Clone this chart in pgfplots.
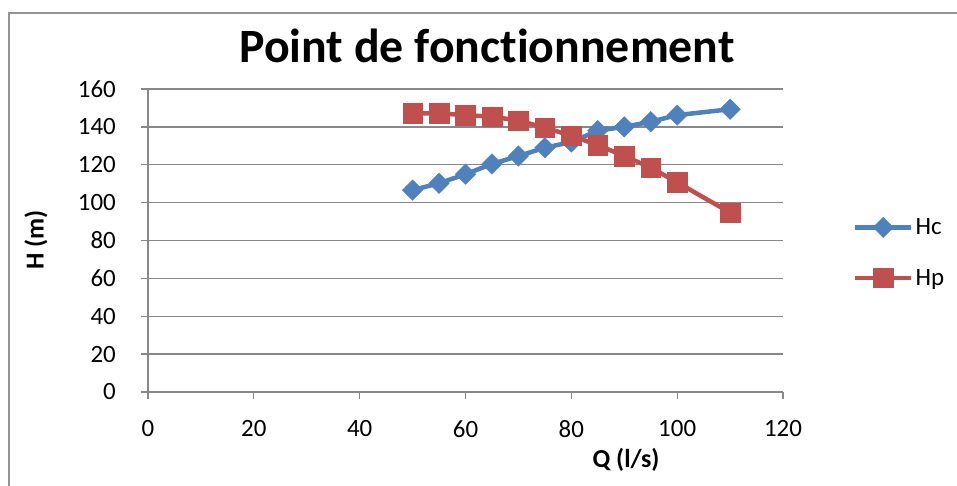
\documentclass[border=0pt]{standalone}
\usepackage{pgfplots}
\pgfplotsset{compat=1.18}
\usepackage{fontspec}
\setmainfont{Carlito}[Ligatures={NoCommon}]
\definecolor{hcblue}{HTML}{4F81BD}
\definecolor{hpred}{HTML}{C0504D}
\definecolor{gridgray}{HTML}{888888}
\begin{document}
\begin{tikzpicture}[x=1bp,y=1bp]
\useasboundingbox (0,0) rectangle (957,486);
\fill[white] (0,0) rectangle (957,486);
\draw[gridgray!90, line width=2bp] (8.5,0) -- (8.5,472.5) -- (960,472.5);
\begin{axis}[
  at={(148bp,94bp)}, anchor=south west,
  scale only axis, width=635bp, height=303bp,
  xmin=0, xmax=120, ymin=0, ymax=160,
  xtick={0,20,...,120}, ytick={0,20,...,160},
  axis x line*=bottom, axis y line*=left,
  axis line style={gridgray, line width=1.3bp},
  tick align=outside, major tick length=7bp,
  tick style={gridgray, line width=1.3bp},
  ymajorgrids, grid style={gridgray, line width=1.3bp},
  /pgf/number format/assume math mode=true,
  ticklabel style={font=\fontsize{25}{29}\selectfont, inner sep=0pt},
  xticklabel style={anchor=center, yshift=-30bp},
  yticklabel style={anchor=east, xshift=-25bp},
  clip=false,
  legend style={at={(axis description cs:1.11,0.46)}, anchor=west, draw=none, fill=none, inner sep=0pt, row sep=29bp, font=\fontsize{25}{29}\selectfont, nodes={inner sep=2bp}},
  legend cell align=left,
  legend image code/.code={\draw[#1, mark repeat=2, mark phase=2] plot coordinates {(0bp,0bp) (28bp,0bp) (56bp,0bp)};},
]
\addplot[hcblue, line width=4.5bp, mark=square*, mark size=7.2bp, mark options={rotate=45, line width=0.5bp, fill=hcblue}] coordinates {
(50,106.6) (55,110.2) (60,115) (65,120.4) (70,124.6) (75,129) (80,132) (85,138) (90,140) (95,142.7) (100,146.2) (110,149.3)};
\addlegendentry{Hc}
\addplot[hpred, line width=4.5bp, mark=square*, mark size=9.8bp, mark options={line width=0.5bp, fill=hpred}] coordinates {
(50,147.1) (55,147.1) (60,146.2) (65,145.4) (70,143.3) (75,139.6) (80,135.3) (85,130.4) (90,124.6) (95,118.5) (100,110.7) (110,94.7)};
\addlegendentry{Hp}
\end{axis}
\node[anchor=base, font=\bfseries\fontsize{48}{54}\selectfont, inner sep=0pt] at (487,423) {Point de fonctionnement};
\node[font=\bfseries\fontsize{26}{30}\selectfont, inner sep=0pt] at (626,26) {Q (l/s)};
\node[font=\bfseries\fontsize{26}{30}\selectfont, inner sep=0pt, rotate=90] at (36,246) {H (m)};
\end{tikzpicture}
\end{document}
